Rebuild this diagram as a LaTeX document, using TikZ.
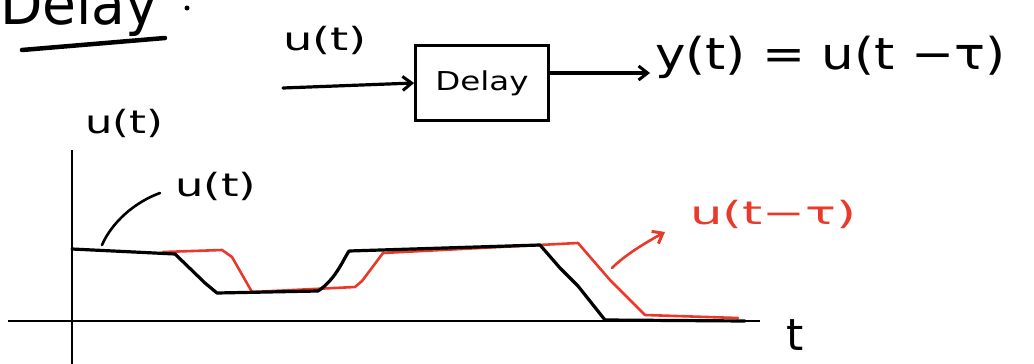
\documentclass[tikz,border=0pt]{standalone}
\usepackage{fontspec}
\setmainfont{DejaVu Sans}
\usetikzlibrary{arrows.meta}
\definecolor{pen}{HTML}{E8392A}
\tikzset{
  hand/.style={line width=3.2pt, line cap=round, line join=round},
  thinax/.style={line width=1.5pt},
  lbl/.style={inner sep=0pt, font=\fontsize{32}{32}\selectfont},
  big/.style={inner sep=0pt, font=\fontsize{44}{44}\selectfont},
  tip/.style={-{Straight Barb[length=9pt,width=14pt,line width=3pt]}},
}
\newcommand{\wide}[2]{\scalebox{#1}[1]{#2}}
\begin{document}
\begin{tikzpicture}[x=1pt,y=-1pt]
\useasboundingbox (0,0) rectangle (1034,364);
\clip (0,0) rectangle (1034,364);
% title
\node[inner sep=0pt, font=\fontsize{58}{58}\selectfont, anchor=base west] (title) at (0,24) {\wide{0.95}{Delay}};
\fill (187,8) circle (2.5pt);
\draw[hand, line width=4.5pt] (22,50) -- (165,38);
% block diagram
\node[lbl, anchor=base west] (ulab) at (283,50) {\wide{1.45}{u(t)}};
\node[draw, line width=2.8pt, minimum width=133pt, minimum height=75pt, inner sep=0pt,
      font=\fontsize{26}{26}\selectfont] (box) at (482,83) {\wide{1.25}{Delay}};
\coordinate (in) at (283,88);
\draw[hand, tip] (in) -- (box.west);
\node[big, anchor=west] (out) at (655,57) {\wide{1.17}{y(t) = u(t −τ)}};
\coordinate (outin) at (650,73);
\draw[hand, tip] (box.east |- outin) -- (outin);
% axes
\node[lbl, anchor=base west] (ylab) at (85,133) {\wide{1.35}{u(t)}};
\coordinate (ytop) at (72,150);
\coordinate (ybot) at (72,364);
\coordinate (xl) at (8,321);
\coordinate (xr) at (760,321);
\draw[thinax] (ytop) -- (ybot);
\draw[thinax] (xl) -- (xr);
\node[big, anchor=base west] (tlab) at (786,350) {t};
% red delayed signal
\draw[hand, pen, line width=2.6pt] (163,252) -- (222,250) -- (232,257) -- (252,292)
  -- (355,287) -- (362,281) -- (383,253) -- (578,243) -- (610,280) -- (645,315) -- (738,318);
% black signal
\draw[hand] (72,249) -- (175,254) -- (205,283) -- (217,293) -- (318,291)
  .. controls (335,280) and (342,262) .. (349,251) -- (540,245) -- (560,268) -- (578,286) -- (605,320) -- (745,321);
% labels with leaders
\node[lbl, anchor=base west] (ucurve) at (175,196) {\wide{1.4}{u(t)}};
\coordinate (ulead) at (102,245);
\draw[hand, line width=2.6pt] (ulead) .. controls (112,222) and (135,202) .. (160,193);
\node[lbl, anchor=base west, text=pen] (rlab) at (690,224) {\wide{1.6}{u(t−τ)}};
\coordinate (rlead) at (612,268);
\draw[hand, pen, line width=2.6pt, tip] (rlead) .. controls (625,255) and (645,243) .. (665,232);
\end{tikzpicture}
\end{document}
